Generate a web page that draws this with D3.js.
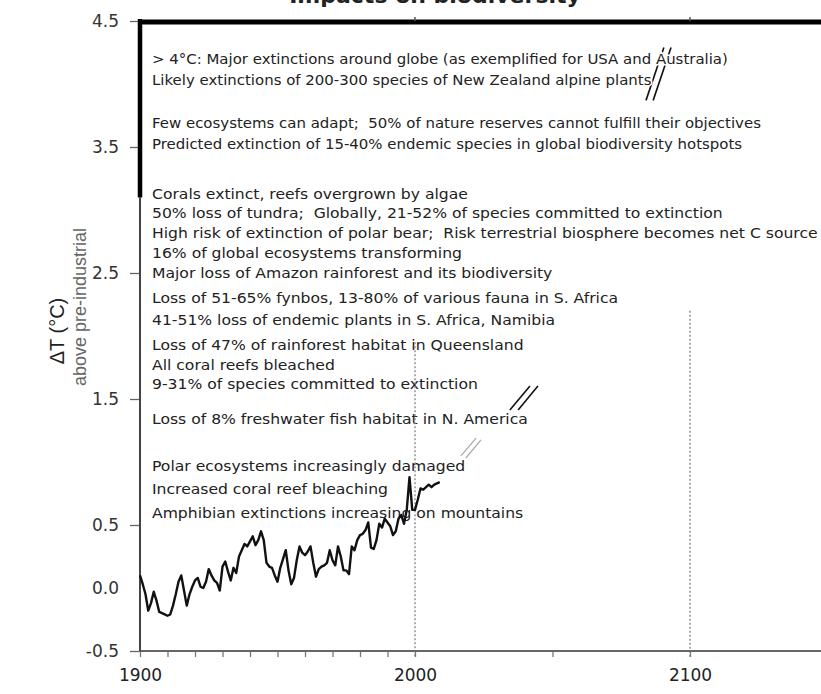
<!DOCTYPE html>
<html>
<head>
<meta charset="utf-8">
<script src="https://cdn.jsdelivr.net/npm/d3@7"></script>
<style>
body { margin: 0; background: #fff; }
svg { display: block; font-family: "DejaVu Sans", sans-serif; }
</style>
</head>
<body>
<svg id="canvas"></svg>
<script>
let years = [
    1900, 1901, 1902, 1903, 1904, 1905, 1906, 1907, 1908, 1909,
    1910, 1911, 1912, 1913, 1914, 1915, 1916, 1917, 1918, 1919,
    1920, 1921, 1922, 1923, 1924, 1925, 1926, 1927, 1928, 1929,
    1930, 1931, 1932, 1933, 1934, 1935, 1936, 1937, 1938, 1939,
    1940, 1941, 1942, 1943, 1944, 1945, 1946, 1947, 1948, 1949,
    1950, 1951, 1952, 1953, 1954, 1955, 1956, 1957, 1958, 1959,
    1960, 1961, 1962, 1963, 1964, 1965, 1966, 1967, 1968, 1969,
    1970, 1971, 1972, 1973, 1974, 1975, 1976, 1977, 1978, 1979,
    1980, 1981, 1982, 1983, 1984, 1985, 1986, 1987, 1988, 1989,
    1990, 1991, 1992, 1993, 1994, 1995, 1996, 1997, 1998, 1999,
    2000, 2001, 2002, 2003, 2004, 2005, 2006, 2007, 2008, 2009
];
let anomalies = [
    0.10, 0.03, -0.05, -0.18, -0.12, -0.03, -0.10, -0.19, -0.20, -0.21,
    -0.22, -0.21, -0.14, -0.05, 0.05, 0.10, -0.02, -0.14, -0.05, 0.01,
    0.06, 0.08, 0.01, 0.00, 0.05, 0.15, 0.10, 0.06, 0.04, -0.02,
    0.17, 0.21, 0.13, 0.06, 0.16, 0.12, 0.25, 0.30, 0.35, 0.33,
    0.37, 0.41, 0.34, 0.38, 0.45, 0.38, 0.20, 0.17, 0.16, 0.10,
    0.05, 0.16, 0.23, 0.30, 0.14, 0.03, 0.08, 0.22, 0.33, 0.28,
    0.26, 0.29, 0.33, 0.20, 0.09, 0.15, 0.17, 0.18, 0.20, 0.30,
    0.22, 0.18, 0.33, 0.25, 0.14, 0.14, 0.11, 0.33, 0.30, 0.38,
    0.42, 0.43, 0.46, 0.52, 0.32, 0.31, 0.38, 0.51, 0.48, 0.55,
    0.52, 0.49, 0.42, 0.45, 0.55, 0.58, 0.51, 0.62, 0.88, 0.62,
    0.62, 0.70, 0.79, 0.78, 0.80, 0.82, 0.80, 0.82, 0.83, 0.84
];

// impacts and the warming level (°C) each is written at
let impactTexts = [
    '> 4°C: Major extinctions around globe (as exemplified for USA and Australia)',
    'Likely extinctions of 200-300 species of New Zealand alpine plants',
    'Few ecosystems can adapt;  50% of nature reserves cannot fulfill their objectives',
    'Predicted extinction of 15-40% endemic species in global biodiversity hotspots',
    'Corals extinct, reefs overgrown by algae',
    '50% loss of tundra;  Globally, 21-52% of species committed to extinction',
    'High risk of extinction of polar bear;  Risk terrestrial biosphere becomes net C source',
    '16% of global ecosystems transforming',
    'Major loss of Amazon rainforest and its biodiversity',
    'Loss of 51-65% fynbos, 13-80% of various fauna in S. Africa',
    '41-51% loss of endemic plants in S. Africa, Namibia',
    'Loss of 47% of rainforest habitat in Queensland',
    'All coral reefs bleached',
    '9-31% of species committed to extinction',
    'Loss of 8% freshwater fish habitat in N. America',
    'Polar ecosystems increasingly damaged',
    'Increased coral reef bleaching',
    'Amphibian extinctions increasing on mountains'
];
let impactLevels = [4.20, 4.03, 3.69, 3.52, 3.13, 2.98, 2.82, 2.66, 2.50, 2.30,
                    2.13, 1.93, 1.77, 1.62, 1.34, 0.97, 0.79, 0.60];

// axis ticks
let yTicks = [-0.5, 0.0, 0.5, 1.5, 2.5, 3.5, 4.5];
let xTicks = [1900, 1910, 1920, 1930, 1940, 1950, 1960, 1970, 1980, 1990, 2000, 2050, 2100];
let xLabels = [1900, 2000, 2100];

// dotted year markers and the °C level each one rises to
let markerYears = [2000, 2100];
let markerTops = [1.95, 2.2];

// "//" break marks as [year, °C] end points
let breakMarks = [
    [[2090.5, 4.29], [2084.0, 3.87]],
    [[2093.1, 4.29], [2086.6, 3.87]],
    [[2041.8, 1.603], [2034.5, 1.413]],
    [[2044.7, 1.603], [2037.5, 1.413]]
];
let greyMarks = [
    [[2022.2, 1.19], [2016.7, 1.048]],
    [[2024.0, 1.175], [2018.5, 1.032]]
];

let width = 821;
let height = 694;
let plotLeft = 140;
let plotTop = 21;
let plotBottom = 651;

let canvas = d3.select('#canvas');
canvas.attr('width', width);
canvas.attr('height', height);

let xScale = d3.scaleLinear()
               .domain([1900, 2150])
               .range([plotLeft, plotLeft + 2.75 * 250]);
let yScale = d3.scaleLinear()
               .domain([-0.5, 4.5])
               .range([plotBottom, plotTop]);

let drawTitle = () => {
    // the title is mostly cropped off the top of the figure
    canvas.append('text')
          .attr('x', 435)
          .attr('y', 3)
          .attr('text-anchor', 'middle')
          .attr('font-size', 22)
          .attr('font-weight', 'bold')
          .attr('fill', '#222')
          .text('Impacts on biodiversity');

    canvas.append('text')
          .attr('transform', 'translate(64, 331) rotate(-90)')
          .attr('text-anchor', 'middle')
          .attr('font-family', 'Liberation Sans, Arial, sans-serif')
          .attr('font-size', 20)
          .attr('fill', '#222')
          .text('ΔT (°C)');

    canvas.append('text')
          .attr('transform', 'translate(86, 307) rotate(-90)')
          .attr('text-anchor', 'middle')
          .attr('font-family', 'Liberation Sans, Arial, sans-serif')
          .attr('font-size', 18)
          .attr('fill', '#666')
          .text('above pre-industrial');
}

let drawBreaks = () => {
    canvas.append('g')
          .selectAll('line')
          .data(breakMarks)
          .enter()
          .append('line')
          .attr('x1', (d) => xScale(d[0][0]))
          .attr('y1', (d) => yScale(d[0][1]))
          .attr('x2', (d) => xScale(d[1][0]))
          .attr('y2', (d) => yScale(d[1][1]))
          .attr('stroke', '#111')
          .attr('stroke-width', 1.6);

    canvas.append('g')
          .selectAll('line')
          .data(greyMarks)
          .enter()
          .append('line')
          .attr('x1', (d) => xScale(d[0][0]))
          .attr('y1', (d) => yScale(d[0][1]))
          .attr('x2', (d) => xScale(d[1][0]))
          .attr('y2', (d) => yScale(d[1][1]))
          .attr('stroke', '#aaa')
          .attr('stroke-width', 1.3);
}

let drawImpacts = () => {
    // the figure's lettering is slightly wide, so stretch it a little
    canvas.append('g')
          .attr('transform', 'translate(' + (plotLeft + 12) + ', 0) scale(1.1, 1)')
          .selectAll('text')
          .data(impactTexts)
          .enter()
          .append('text')
          .attr('x', 0)
          .attr('y', (d, i) => yScale(impactLevels[i]))
          .attr('dy', '0.36em')
          .attr('font-size', (d, i) => i < 4 ? 13.6 : 14.2)
          .attr('fill', '#222')
          .attr('stroke', '#fff')
          .attr('stroke-width', 3)
          .attr('paint-order', 'stroke')
          .style('white-space', 'pre')
          .text((d) => d);
}

let drawMarkers = () => {
    canvas.append('g')
          .selectAll('line')
          .data(markerYears)
          .enter()
          .append('line')
          .attr('x1', (d) => xScale(d))
          .attr('x2', (d) => xScale(d))
          .attr('y1', (d, i) => yScale(markerTops[i]))
          .attr('y2', plotBottom + 6)
          .attr('stroke', '#888')
          .attr('stroke-width', 1.4)
          .attr('stroke-dasharray', '2,2');
}

let drawAxes = () => {
    let yAxis = d3.axisLeft(yScale)
                  .tickValues(yTicks)
                  .tickSize(10)
                  .tickSizeOuter(0)
                  .tickPadding(11)
                  .tickFormat((d) => d.toFixed(1));

    let yg = canvas.append('g')
                   .attr('id', 'y-axis')
                   .attr('transform', 'translate(' + plotLeft + ', 0)')
                   .call(yAxis);
    yg.select('.domain').remove();
    yg.selectAll('.tick line')
      .attr('stroke', '#666')
      .attr('stroke-width', 1.3)
      .attr('opacity', (d) => d === 0 ? 0 : 1);
    yg.selectAll('.tick text')
      .attr('font-size', 17)
      .attr('font-family', 'DejaVu Sans, sans-serif')
      .attr('fill', '#333');

    let xAxis = d3.axisBottom(xScale)
                  .tickValues(xTicks)
                  .tickSize(6)
                  .tickSizeOuter(0)
                  .tickPadding(12)
                  .tickFormat((d) => xLabels.includes(d) ? d : '');

    let xg = canvas.append('g')
                   .attr('id', 'x-axis')
                   .attr('transform', 'translate(0, ' + plotBottom + ')')
                   .call(xAxis);
    xg.select('.domain').remove();
    xg.selectAll('.tick line')
      .attr('stroke', '#777')
      .attr('stroke-width', 1.3);
    xg.selectAll('.tick text')
      .attr('font-size', 17)
      .attr('font-family', 'DejaVu Sans, sans-serif')
      .attr('fill', '#222');

    // bottom axis line
    canvas.append('line')
          .attr('x1', plotLeft).attr('x2', width)
          .attr('y1', plotBottom).attr('y2', plotBottom)
          .attr('stroke', '#666')
          .attr('stroke-width', 2);

    // left axis: thin below, heavy bracket for the > 3°C range
    canvas.append('line')
          .attr('x1', plotLeft).attr('x2', plotLeft)
          .attr('y1', yScale(3.1)).attr('y2', plotBottom)
          .attr('stroke', '#444')
          .attr('stroke-width', 2);
    canvas.append('line')
          .attr('x1', plotLeft).attr('x2', plotLeft)
          .attr('y1', plotTop - 2).attr('y2', yScale(3.1))
          .attr('stroke', '#000')
          .attr('stroke-width', 4.5);

    // heavy top rule
    canvas.append('line')
          .attr('x1', plotLeft - 2).attr('x2', width)
          .attr('y1', plotTop + 1).attr('y2', plotTop + 1)
          .attr('stroke', '#000')
          .attr('stroke-width', 5);
    canvas.append('g')
          .selectAll('line')
          .data(markerYears)
          .enter()
          .append('line')
          .attr('x1', (d) => xScale(d)).attr('x2', (d) => xScale(d))
          .attr('y1', plotTop - 4).attr('y2', plotTop)
          .attr('stroke', '#555')
          .attr('stroke-width', 1.5);
}

let drawCurve = () => {
    let line = d3.line()
                 .x((d, i) => xScale(years[i]))
                 .y((d) => yScale(d));

    canvas.append('path')
          .datum(anomalies)
          .attr('d', line)
          .attr('fill', 'none')
          .attr('stroke', '#111')
          .attr('stroke-width', 2.4)
          .attr('stroke-linejoin', 'round');
}

drawTitle();
drawBreaks();
drawImpacts();
drawMarkers();
drawAxes();
drawCurve();
</script>
</body>
</html>
